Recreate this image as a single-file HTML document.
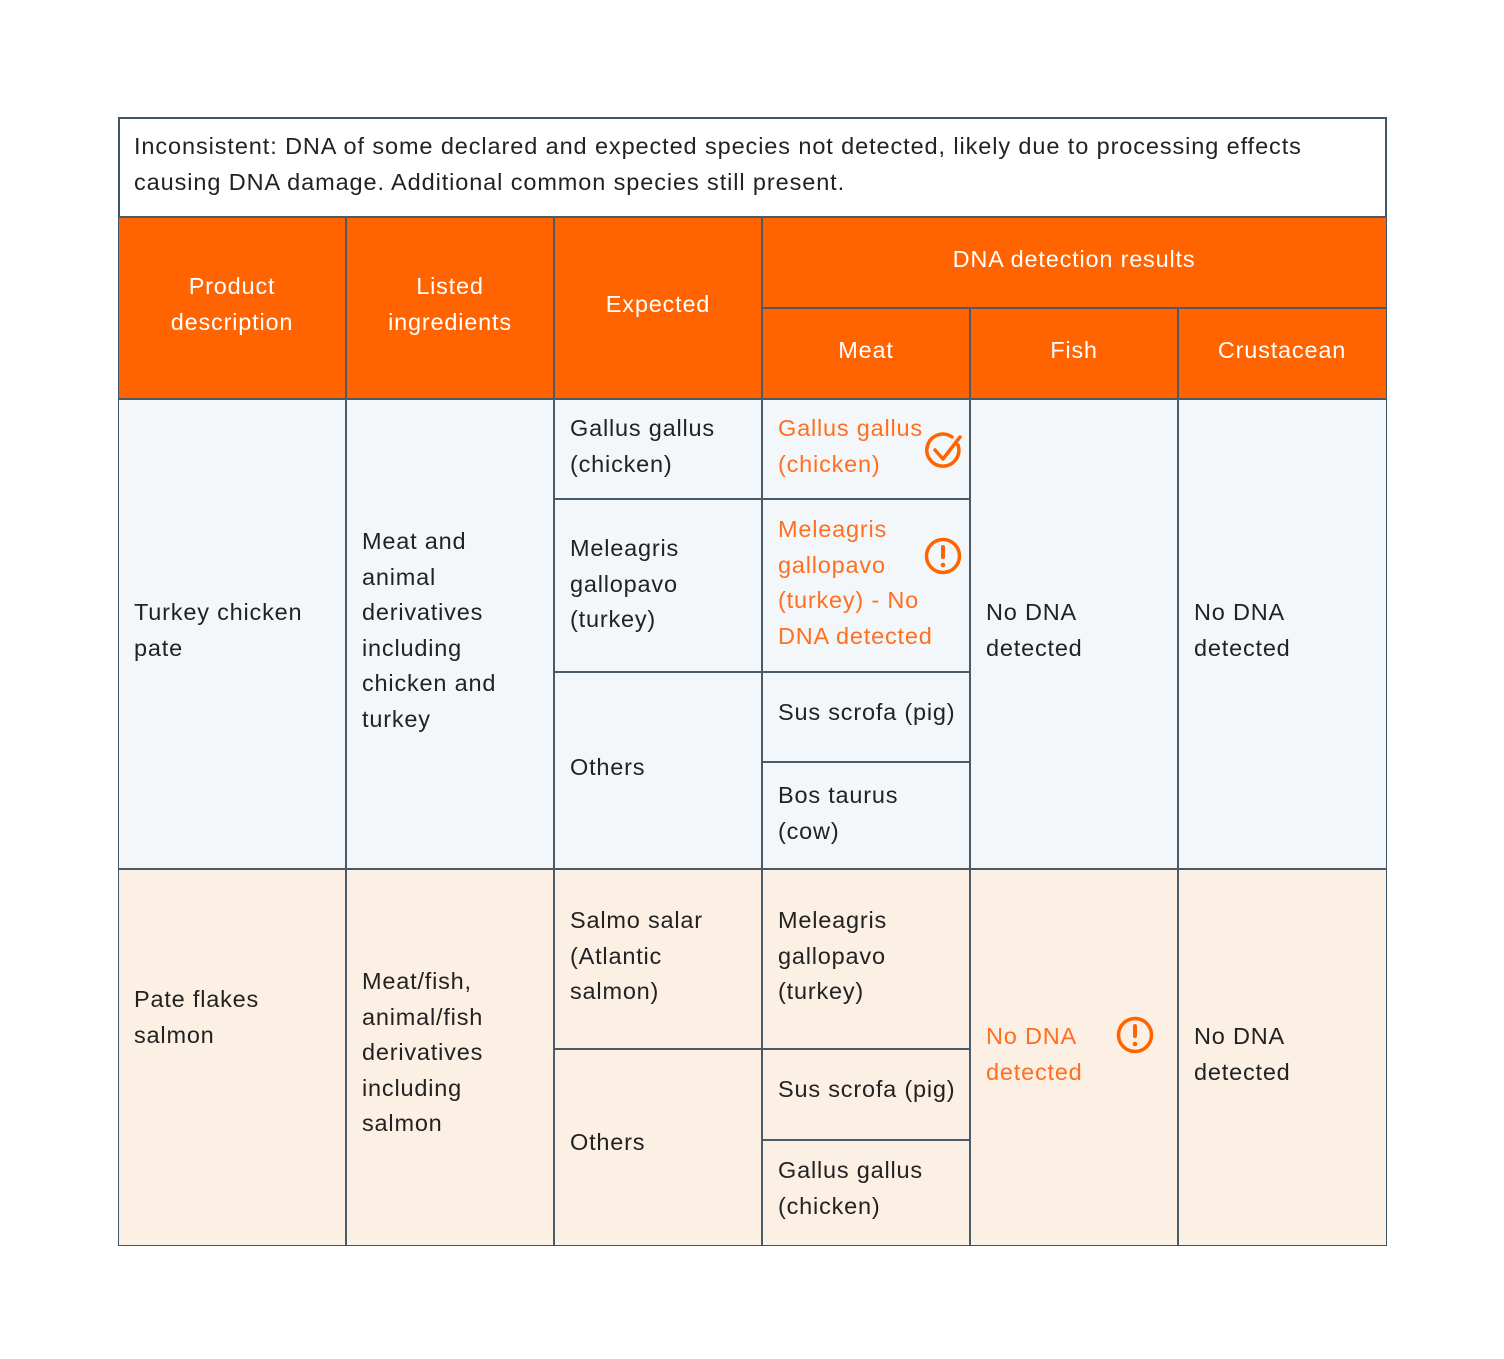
<!DOCTYPE html><html><head><style>
body{margin:0;width:1504px;height:1359px;background:#fff;position:relative;font-family:"Liberation Sans",sans-serif;font-size:23.5px;color:#222;letter-spacing:0.8px;}
.b{position:absolute;box-sizing:border-box;}
.t{position:absolute;line-height:35.5px;white-space:nowrap;}
.c{text-align:center;color:#fff;}
.o{color:#ff6f1f;}
.h{position:absolute;background:#4a5a66;}
</style></head><body>
<div class="b" style="left:118px;top:117px;width:1269px;height:1129px;border:2px solid #3d5566;"></div>
<div class="b" style="left:119px;top:218px;width:1267px;height:181px;background:#ff6400;"></div>
<div class="b" style="left:119px;top:399px;width:1267px;height:470px;background:#f4f7fa;"></div>
<div class="b" style="left:119px;top:869px;width:1267px;height:376px;background:#fcefe3;"></div>
<div class="h" style="left:118px;top:216px;width:1269px;height:2px"></div>
<div class="h" style="left:762px;top:307px;width:624px;height:2px"></div>
<div class="h" style="left:118px;top:398px;width:1269px;height:2px"></div>
<div class="h" style="left:554px;top:498px;width:416px;height:2px"></div>
<div class="h" style="left:554px;top:671px;width:416px;height:2px"></div>
<div class="h" style="left:762px;top:761px;width:208px;height:2px"></div>
<div class="h" style="left:118px;top:868px;width:1269px;height:2px"></div>
<div class="h" style="left:554px;top:1048px;width:416px;height:2px"></div>
<div class="h" style="left:762px;top:1139px;width:208px;height:2px"></div>
<div class="h" style="left:345px;top:217px;width:2px;height:1028px"></div>
<div class="h" style="left:553px;top:217px;width:2px;height:1028px"></div>
<div class="h" style="left:761px;top:217px;width:2px;height:1028px"></div>
<div class="h" style="left:969px;top:308px;width:2px;height:937px"></div>
<div class="h" style="left:1177px;top:308px;width:2px;height:937px"></div>

<div class="t" style="left:134px;top:129px;letter-spacing:0.9px;">Inconsistent: DNA of some declared and expected species not detected, likely due to processing effects<br>causing DNA damage. Additional common species still present.</div>
<div class="t c" style="left:118px;width:228px;top:269px;">Product<br>description</div>
<div class="t c" style="left:346px;width:208px;top:269px;">Listed<br>ingredients</div>
<div class="t c" style="left:554px;width:208px;top:287px;">Expected</div>
<div class="t c" style="left:762px;width:624px;top:242px;">DNA detection results</div>
<div class="t c" style="left:762px;width:208px;top:333px;">Meat</div>
<div class="t c" style="left:970px;width:208px;top:333px;">Fish</div>
<div class="t c" style="left:1178px;width:208px;top:333px;">Crustacean</div>

<div class="t" style="left:134px;top:595px;">Turkey chicken<br>pate</div>
<div class="t" style="left:362px;top:524px;">Meat and<br>animal<br>derivatives<br>including<br>chicken and<br>turkey</div>
<div class="t" style="left:570px;top:411px;">Gallus gallus<br>(chicken)</div>
<div class="t" style="left:570px;top:531px;">Meleagris<br>gallopavo<br>(turkey)</div>
<div class="t" style="left:570px;top:750px;">Others</div>
<div class="t o" style="left:778px;top:411px;">Gallus gallus<br>(chicken)</div>
<div class="t o" style="left:778px;top:512px;">Meleagris<br>gallopavo<br>(turkey) - No<br>DNA detected</div>
<div class="t" style="left:778px;top:695px;">Sus scrofa (pig)</div>
<div class="t" style="left:778px;top:778px;">Bos taurus<br>(cow)</div>
<div class="t" style="left:986px;top:595px;">No DNA<br>detected</div>
<div class="t" style="left:1194px;top:595px;">No DNA<br>detected</div>

<div class="t" style="left:134px;top:982px;">Pate flakes<br>salmon</div>
<div class="t" style="left:362px;top:964px;">Meat/fish,<br>animal/fish<br>derivatives<br>including<br>salmon</div>
<div class="t" style="left:570px;top:903px;">Salmo salar<br>(Atlantic<br>salmon)</div>
<div class="t" style="left:570px;top:1125px;">Others</div>
<div class="t" style="left:778px;top:903px;">Meleagris<br>gallopavo<br>(turkey)</div>
<div class="t" style="left:778px;top:1072px;">Sus scrofa (pig)</div>
<div class="t" style="left:778px;top:1153px;">Gallus gallus<br>(chicken)</div>
<div class="t o" style="left:986px;top:1019px;">No DNA<br>detected</div>
<div class="t" style="left:1194px;top:1019px;">No DNA<br>detected</div>

<svg style="position:absolute;left:0;top:0" width="1504" height="1359">
<g fill="none" stroke="#ff6400" stroke-width="3.5" stroke-linecap="round" stroke-linejoin="round">
<path d="M958 445 A16 16 0 1 1 952 437"/>
<path d="M935 450 L943 459 L960 437"/>
<circle cx="943" cy="556" r="16.5"/>
<circle cx="1135" cy="1035" r="16.5"/>
</g>
<g fill="#ff6400">
<rect x="941" y="545" width="4" height="14" rx="2"/><circle cx="943" cy="565" r="2.3"/>
<rect x="1133" y="1024" width="4" height="14" rx="2"/><circle cx="1135" cy="1044" r="2.3"/>
</g>
</svg>
</body></html>
